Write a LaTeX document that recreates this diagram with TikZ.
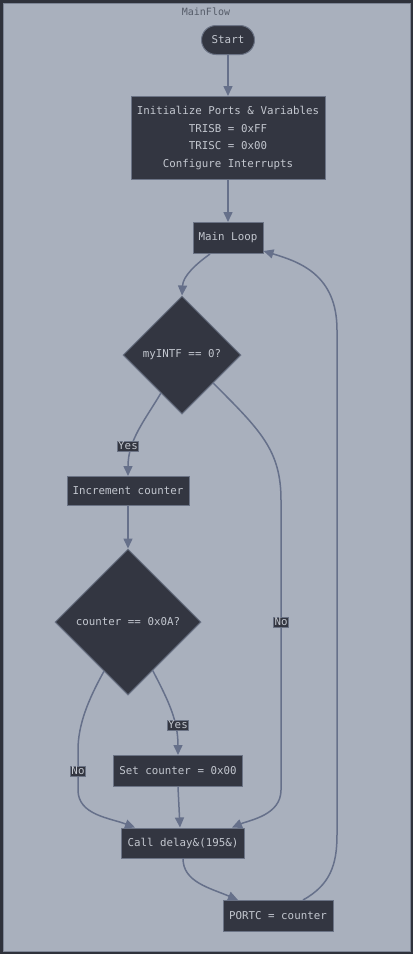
\documentclass[tikz,border=0pt]{standalone}
\usepackage{fontspec}
\setmonofont{DejaVu Sans Mono}
\usetikzlibrary{arrows.meta,shapes.geometric}
\definecolor{pagedark}{HTML}{2F323B}
\definecolor{clusterfill}{HTML}{A9B0BD}
\definecolor{clusterline}{HTML}{7E8696}
\definecolor{nodefill}{HTML}{333641}
\definecolor{nodeline}{HTML}{6B7385}
\definecolor{nodetext}{HTML}{C3C7CF}
\definecolor{edgecol}{HTML}{66708A}
\definecolor{titletext}{HTML}{555B68}
\begin{document}
\begin{tikzpicture}[x=1pt,y=-1pt,
    txt/.style={font=\ttfamily\fontsize{10.8}{17.7}\selectfont, text=nodetext},
    box/.style={txt, draw=nodeline, fill=nodefill, line width=1pt, inner sep=0pt},
    decision/.style={box, diamond, aspect=1, minimum width=#1, minimum height=#1},
    edgelabel/.style={txt, fill=nodefill, draw=nodeline, line width=0.6pt, inner sep=1pt},
    flow/.style={draw=edgecol, line width=1.5pt, -{Triangle[length=10pt,width=9pt]}}]
    \useasboundingbox (0,0) rectangle (413,954);
    \fill[pagedark] (0,0) rectangle (413,954);
    \filldraw[fill=clusterfill, draw=clusterline, line width=1pt] (3,3) rectangle (410,951);
    \node[font=\ttfamily\fontsize{10}{12}\selectfont, text=titletext] (title) at (206,12) {MainFlow};

    \node[box, rounded corners=14.5pt, minimum width=53pt, minimum height=29pt] (start) at (228,40) {Start};
    \node[box, align=center, minimum width=194pt, minimum height=83pt] (init) at (228,138) {Initialize Ports \& Variables\\TRISB = 0xFF\\TRISC = 0x00\\Configure Interrupts};
    \node[box, minimum width=70pt, minimum height=31pt] (loop) at (228,238) {Main Loop};
    \node[decision=118pt] (intf) at (182,355) {myINTF == 0?};
    \node[box, minimum width=122pt, minimum height=29pt] (incr) at (128,491) {Increment counter};
    \node[decision=146pt] (limit) at (128,622) {counter == 0x0A?};
    \node[box, minimum width=129pt, minimum height=31pt] (reset) at (178,771) {Set counter = 0x00};
    \node[box, minimum width=123pt, minimum height=30pt] (delay) at (183,843) {Call delay\&(195\&)};
    \node[box, minimum width=110pt, minimum height=31pt] (portc) at (278,916) {PORTC = counter};

    \draw[flow] (start) -- (init);
    \draw[flow] (init) -- (loop);
    \draw[flow] ([xshift=-18pt]loop.south) .. controls (196,264) and (183,276) .. (intf.north);
    \draw[flow] (intf.241) .. controls (145,420) and (128,440) .. (incr.north);
    \draw[flow] (intf.318) .. controls (260,430) and (281,450) .. (281,500) -- (281,790) .. controls (281,815) and (250,820) .. ([xshift=49pt]delay.north);
    \draw[flow] (incr) -- (limit);
    \draw[flow] (limit.297) .. controls (168,700) and (178,720) .. (reset.north);
    \draw[flow] (limit.244) .. controls (88,700) and (78,725) .. (78,750) -- (78,790) .. controls (78,815) and (110,818) .. ([xshift=-48pt]delay.north);
    \draw[flow] (reset.south) -- ([xshift=-3pt]delay.north);
    \draw[flow] (delay.south) .. controls (183,882) and (210,888) .. ([xshift=-40pt]portc.north);
    \draw[flow] ([xshift=25pt]portc.north) .. controls (330,885) and (337,865) .. (337,835) -- (337,330) .. controls (337,275) and (300,262) .. ([yshift=3pt]loop.south east);

    \node[edgelabel] (yes1) at (128,446) {Yes};
    \node[edgelabel] (no1) at (281,622) {No};
    \node[edgelabel] (yes2) at (178,725) {Yes};
    \node[edgelabel] (no2) at (78,771) {No};
\end{tikzpicture}
\end{document}
